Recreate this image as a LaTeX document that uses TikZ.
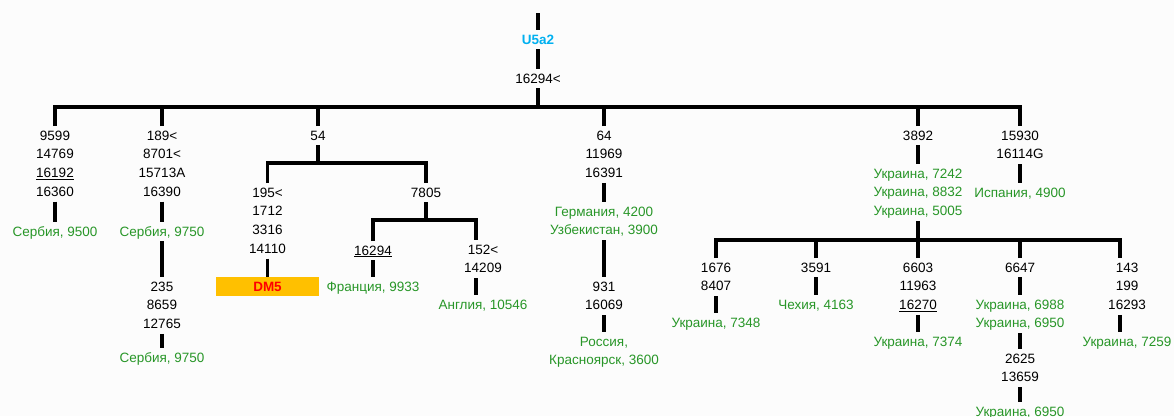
\documentclass[tikz,border=0pt]{standalone}
\usepackage{fontspec}
\setmainfont{Liberation Sans}
\definecolor{grn}{RGB}{40,150,40}
\definecolor{blu}{RGB}{0,176,240}
\definecolor{org}{RGB}{255,192,0}
\definecolor{bgc}{RGB}{252,252,252}
\newcommand{\st}{\rule[-5pt]{0pt}{18.8pt}}
\begin{document}
\begin{tikzpicture}[x=1pt,y=-1pt,
  txt/.style={font=\fontsize{13.5}{18.8}\selectfont, align=center, inner sep=0pt, anchor=north, yshift=9pt},
  gtxt/.style={txt, text=grn},
  ln/.style={line width=3.5pt, line join=miter},
]
\useasboundingbox (0,0) rectangle (1174,416);
\fill[bgc] (0,0) rectangle (1174,416);
\clip (0,0) rectangle (1174,416);

% root
\coordinate (top) at (538,13);
\node[txt, text=blu, font=\fontsize{13.5}{18.8}\selectfont\bfseries] (u) at (538,39) {\st U5a2};
\node[txt] (r) at (538,78) {\st 16294<};
\coordinate (bar1) at (538,107);

% level 1
\node[txt] (a1) at (55,135) {\st 9599\\\st 14769\\\st \underline{16192}\\\st 16360};
\node[gtxt] (a1g) at (55,231) {\st Сербия, 9500};
\node[txt] (a2) at (162,135) {\st 189<\\\st 8701<\\\st 15713A\\\st 16390};
\node[gtxt] (a2g) at (162,231) {\st Сербия, 9750};
\node[txt] (a2b) at (162,286) {\st 235\\\st 8659\\\st 12765};
\node[gtxt] (a2bg) at (162,357) {\st Сербия, 9750};
\node[txt] (a3) at (318,135) {\st 54};
\coordinate (bar3) at (318,163);
\node[txt] (a3a) at (267.5,192) {\st 195<\\\st 1712\\\st 3316\\\st 14110};
\node[fill=org, minimum width=103pt, minimum height=19pt, inner sep=0pt,
      text=red, font=\fontsize{13.5}{16}\selectfont\bfseries] (dm) at (267.5,286.5) {DM5};
\node[txt] (a3b) at (426,192) {\st 7805};
\coordinate (bar3b) at (426,220);
\node[txt] (a3b1) at (373,250) {\st \underline{16294}};
\node[gtxt] (a3b1g) at (373,286) {\st Франция, 9933};
\node[txt] (a3b2) at (483,249) {\st 152<\\\st 14209};
\node[gtxt] (a3b2g) at (483,304) {\st Англия, 10546};
\coordinate (k2) at ([xshift=-7pt]a3b2.north);
\coordinate (k2s) at ([xshift=-7pt]a3b2.south);
\coordinate (k2g) at ([xshift=-7pt]a3b2g.north);

\node[txt] (a4) at (604,135) {\st 64\\\st 11969\\\st 16391};
\node[gtxt] (a4g) at (604,211) {\st Германия, 4200\\\st Узбекистан, 3900};
\node[txt] (a4b) at (604,286) {\st 931\\\st 16069};
\node[gtxt] (a4bg) at (604,341) {\st Россия,\\\st Красноярск, 3600};

\node[txt] (a5) at (918,135) {\st 3892};
\node[gtxt] (a5g) at (918,173) {\st Украина, 7242\\\st Украина, 8832\\\st Украина, 5005};
\coordinate (bar5) at (918,240);
\node[txt] (b1) at (716,267) {\st 1676\\\st 8407};
\node[gtxt] (b1g) at (716,322) {\st Украина, 7348};
\node[txt] (b2) at (816,267) {\st 3591};
\node[gtxt] (b2g) at (816,304) {\st Чехия, 4163};
\node[txt] (b3) at (918,267) {\st 6603\\\st 11963\\\st \underline{16270}};
\node[gtxt] (b3g) at (918,341) {\st Украина, 7374};
\node[txt] (b4) at (1020,267) {\st 6647};
\node[gtxt] (b4g) at (1020,304) {\st Украина, 6988\\\st Украина, 6950};
\node[txt] (b4b) at (1020,358) {\st 2625\\\st 13659};
\node[gtxt] (b4bg) at (1020,411) {\st Украина, 6950};
\node[txt] (b5) at (1127,267) {\st 143\\\st 199\\\st 16293};
\node[gtxt] (b5g) at (1127,341) {\st Украина, 7259};
\coordinate (k5) at ([xshift=-7pt]b5.north);
\coordinate (k5s) at ([xshift=-7pt]b5.south);
\coordinate (k5g) at ([xshift=-7pt]b5g.north);

\node[txt] (a6) at (1020,135) {\st 15930\\\st 16114G};
\node[gtxt] (a6g) at (1020,192) {\st Испания, 4900};

% connectors
\draw[ln] (top) -- (u.north);
\draw[ln] (u.south) -- (r.north);
\draw[ln] (r.south) -- (bar1);
\draw[ln] (a1.north) -- (a1.north |- bar1) -- (a6.north |- bar1) -- (a6.north);
\foreach \n in {a2,a3,a4,a5} \draw[ln] (\n.north) -- (\n.north |- bar1);

\draw[ln] (a1.south) -- (a1g.north);
\draw[ln] (a2.south) -- (a2g.north);
\draw[ln] (a2g.south) -- (a2b.north);
\draw[ln] (a2b.south) -- (a2bg.north);

\draw[ln] (a3.south) -- (bar3);
\draw[ln] (a3a.north) -- (a3a.north |- bar3) -- (a3b.north |- bar3) -- (a3b.north);
\draw[ln] (a3a.south) -- (dm.north);
\draw[ln] (a3b.south) -- (bar3b);
\draw[ln] (a3b1.north) -- (a3b1.north |- bar3b) -- (k2 |- bar3b) -- (k2);
\draw[ln] (a3b1.south) -- (a3b1g.north);
\draw[ln] (k2s) -- (k2g);

\draw[ln] (a4.south) -- (a4g.north);
\draw[ln] (a4g.south) -- (a4b.north);
\draw[ln] (a4b.south) -- (a4bg.north);

\draw[ln] (a5.south) -- (a5g.north);
\draw[ln] (a5g.south) -- (bar5);
\draw[ln] (b1.north) -- (b1.north |- bar5) -- (k5 |- bar5) -- (k5);
\foreach \n in {b2,b3,b4} \draw[ln] (\n.north) -- (\n.north |- bar5);
\draw[ln] (b1.south) -- (b1g.north);
\draw[ln] (b2.south) -- (b2g.north);
\draw[ln] (b3.south) -- (b3g.north);
\draw[ln] (b4.south) -- (b4g.north);
\draw[ln] (b4g.south) -- (b4b.north);
\draw[ln] (b4b.south) -- (b4bg.north);
\draw[ln] (k5s) -- (k5g);

\draw[ln] (a6.south) -- (a6g.north);
\end{tikzpicture}
\end{document}
